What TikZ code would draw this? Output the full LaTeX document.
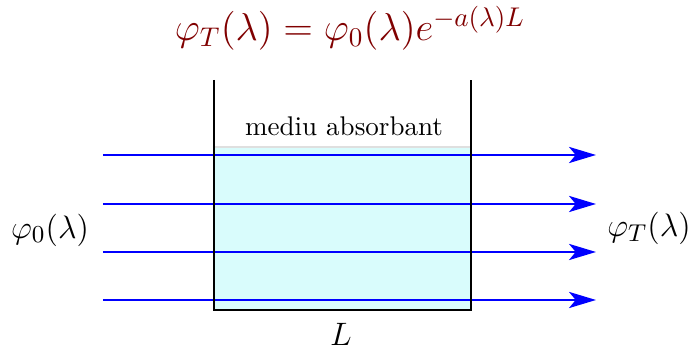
\documentclass[tikz,border=0pt]{standalone}
\usetikzlibrary{arrows.meta}
\definecolor{liq}{RGB}{217,252,252}
\definecolor{formred}{RGB}{128,0,0}
\begin{document}
\begin{tikzpicture}[x=0.37pt,y=-0.37pt,
  ray/.style={blue,line width=0.6pt,-{Stealth[length=10pt,width=6pt,inset=2.5pt]}},
  wall/.style={black,line width=1.1pt,line join=miter},
  side/.style={font=\fontsize{13.1}{15.5}\selectfont}]
\useasboundingbox (0,0) rectangle (695,351);
\fill[liq] (214,147) rectangle (471,310);
\draw[gray!25,line width=0.4pt] (214,147) -- (471,147);
\foreach \y [count=\i] in {155,204,252,300}{
  \coordinate (s\i) at (103,\y);
  \coordinate (e\i) at (596,\y);
  \draw[ray] (s\i) -- (e\i);
}
\coordinate (tl) at (214,80);
\coordinate (bl) at (214,310);
\coordinate (br) at (471,310);
\coordinate (tr) at (471,80);
\draw[wall] (tl) -- (bl) -- (br) -- (tr);
\node[text=formred,font=\Large] (f) at (350,28) {$\varphi_T(\lambda)=\varphi_0(\lambda)e^{-a(\lambda)L}$};
\node (m) at (344,126) {mediu absorbant};
\node[side] (p0) at (50,230) {$\varphi_0(\lambda)$};
\node[side] (pT) at (649,228) {$\varphi_T(\lambda)$};
\node[side] (L) at (341,334) {$L$};
\end{tikzpicture}
\end{document}
